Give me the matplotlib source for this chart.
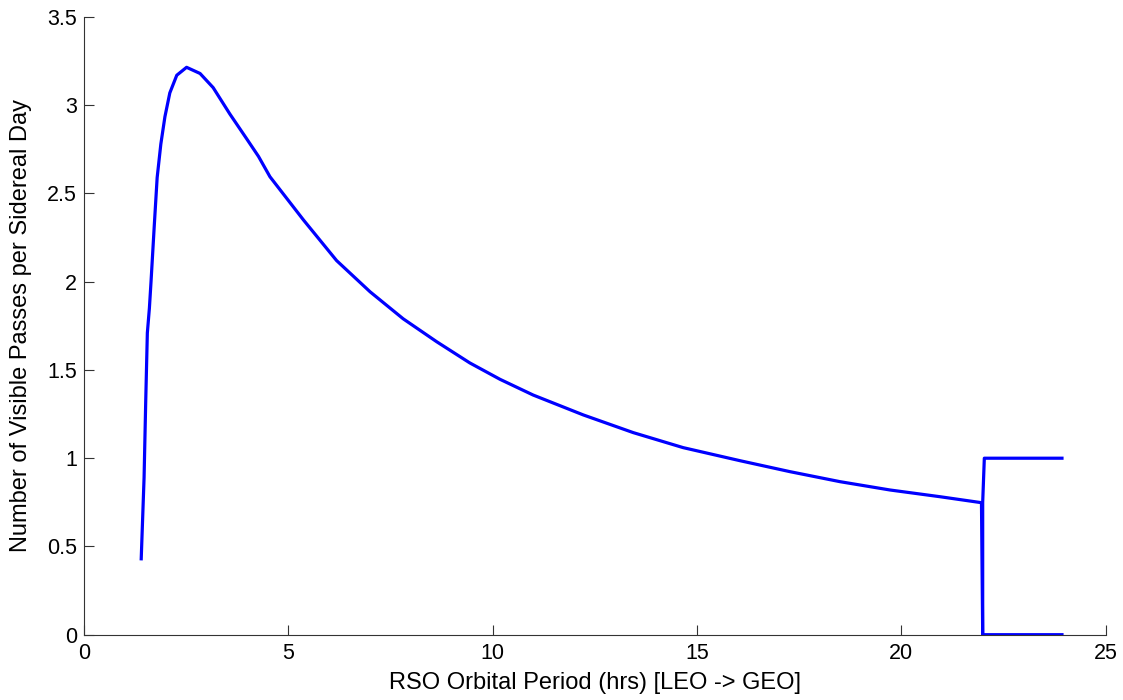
import matplotlib
matplotlib.use("Agg")
import matplotlib.pyplot as plt

# orbital period (hrs) vs visible passes per sidereal day
period_hrs = [1.40, 1.47, 1.51, 1.55, 1.60, 1.64, 1.68, 1.72, 1.79, 1.88, 1.98,
              2.10, 2.27, 2.51, 2.84, 3.16, 3.57, 3.98, 4.27, 4.55, 5.37, 6.18,
              7.00, 7.81, 8.63, 9.44, 10.18, 10.99, 12.22, 13.44, 14.66, 16.05,
              17.27, 18.50, 19.72, 20.94, 21.96, 21.99, 23.93]
passes = [0.43, 0.89, 1.32, 1.71, 1.85, 2.00, 2.16, 2.32, 2.59, 2.78, 2.935,
          3.07, 3.17, 3.215, 3.18, 3.10, 2.95, 2.81, 2.71, 2.595, 2.35, 2.12,
          1.943, 1.79, 1.66, 1.54, 1.447, 1.358, 1.245, 1.145, 1.06, 0.986,
          0.924, 0.867, 0.82, 0.782, 0.748, 0.0, 0.0]

# GEO branch (synchronous orbit, one pass)
geo_period = [21.99, 21.99, 22.03, 23.93]
geo_passes = [0.0, 0.75, 1.0, 1.0]

plt.rcParams['font.family'] = ['Liberation Sans', 'DejaVu Sans']

fig = plt.figure(figsize=(11.23, 7.0), dpi=100)
ax = fig.add_axes([0.0748, 0.0933, 0.9098, 0.8824])

ax.plot(period_hrs, passes, color='#0000ff', lw=2.3)
ax.plot(geo_period, geo_passes, color='#0000ff', lw=2.3)

ax.set_xlim(0, 25)
ax.set_ylim(0, 3.5)
ax.set_xticks([0, 5, 10, 15, 20, 25])
ax.set_yticks([0, 0.5, 1, 1.5, 2, 2.5, 3, 3.5])
ax.set_yticklabels(['0', '0.5', '1', '1.5', '2', '2.5', '3', '3.5'])

for s in ['top', 'right']:
    ax.spines[s].set_visible(False)
for s in ['left', 'bottom']:
    ax.spines[s].set_color('#333333')
    ax.spines[s].set_linewidth(0.8)

ax.tick_params(direction='in', length=7, width=0.8, color='#333333',
               labelsize=15.5, labelcolor='black')
ax.tick_params(axis='x', pad=6)
ax.tick_params(axis='y', pad=5)

ax.set_xlabel('RSO Orbital Period (hrs) [LEO -> GEO]', fontsize=17, labelpad=6)
ax.set_ylabel('Number of Visible Passes per Sidereal Day', fontsize=17, labelpad=11)

fig.savefig('out.png', dpi=100)
